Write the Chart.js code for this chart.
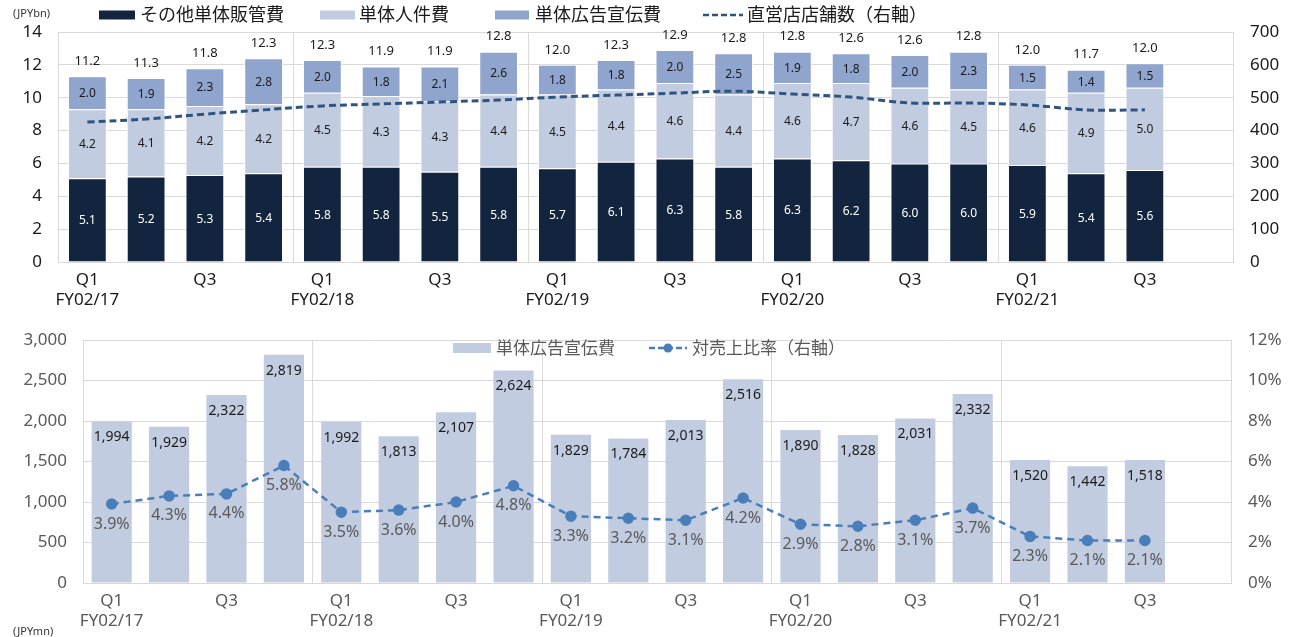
<!DOCTYPE html>
<html>
<head>
<meta charset="utf-8">
<script src="https://cdn.jsdelivr.net/npm/chart.js@4.4.1/dist/chart.umd.min.js"></script>
<style>
body{margin:0;background:#fff;width:1303px;height:637px;overflow:hidden;position:relative;font-family:"Noto Sans","Noto Sans CJK JP",sans-serif}
#top{position:absolute;left:0;top:0;width:1303px;height:310px}
#bottom{position:absolute;left:0;top:310px;width:1303px;height:327px}
.unit{position:absolute;font-size:11px;color:#333}
</style>
</head>
<body>
<div id="top"><canvas id="costChart"></canvas></div>
<div id="bottom"><canvas id="adChart"></canvas></div>
<div class="unit" style="left:13px;top:5px">(JPYbn)</div>
<div class="unit" style="left:13px;top:623px">(JPYmn)</div>
<script>
const FONT = '"Noto Sans", "Noto Sans CJK JP", sans-serif';

// quarters (last slot is empty on purpose, like the original)
const quarters = [
  ['Q1','FY02/17'], '', 'Q3', '',
  ['Q1','FY02/18'], '', 'Q3', '',
  ['Q1','FY02/19'], '', 'Q3', '',
  ['Q1','FY02/20'], '', 'Q3', '',
  ['Q1','FY02/21'], '', 'Q3', ''
];

// top chart (JPYbn)
const sonotaHankan = [5.1,5.2,5.3,5.4,5.8,5.8,5.5,5.8,5.7,6.1,6.3,5.8,6.3,6.2,6.0,6.0,5.9,5.4,5.6];
const jinkenhi     = [4.2,4.1,4.2,4.2,4.5,4.3,4.3,4.4,4.5,4.4,4.6,4.4,4.6,4.7,4.6,4.5,4.6,4.9,5.0];
const koukokuhi    = [2.0,1.9,2.3,2.8,2.0,1.8,2.1,2.6,1.8,1.8,2.0,2.5,1.9,1.8,2.0,2.3,1.5,1.4,1.5];
const goukei       = [11.2,11.3,11.8,12.3,12.3,11.9,11.9,12.8,12.0,12.3,12.9,12.8,12.8,12.6,12.6,12.8,12.0,11.7,12.0];
const tenpoSu      = [426,435,450,463,475,481,487,493,502,508,514,520,511,502,484,484,478,463,463];

// bottom chart (JPYmn, %)
const koukokuMn = [1994,1929,2322,2819,1992,1813,2107,2624,1829,1784,2013,2516,1890,1828,2031,2332,1520,1442,1518];
const hiritsu   = [3.9,4.3,4.4,5.8,3.5,3.6,4.0,4.8,3.3,3.2,3.1,4.2,2.9,2.8,3.1,3.7,2.3,2.1,2.1];

const NAVY = '#13243f', LIGHT = '#c2cce0', MID = '#8fa5cd', GRID = '#d9d9d9';

Chart.defaults.font.family = FONT;
Chart.defaults.animation = false;

// year separators only
function yearGrid(ctx) {
  if (ctx.index === undefined || ctx.index % 4 === 0) return GRID;
  return 'rgba(0,0,0,0)';
}

function makeLegend(items) {
  return {
    id: 'ownLegend',
    afterDraw(chart) {
      const c = chart.ctx;
      c.save();
      items.forEach(it => {
        if (it.type === 'box') {
          c.fillStyle = it.color;
          c.fillRect(it.x, it.y - it.h / 2, it.w, it.h);
        } else {
          c.strokeStyle = it.color;
          c.lineWidth = it.lw;
          c.setLineDash(it.dash);
          c.beginPath();
          c.moveTo(it.x, it.y);
          c.lineTo(it.x + it.w, it.y);
          c.stroke();
          c.setLineDash([]);
          if (it.dot) {
            c.fillStyle = it.color;
            c.beginPath();
            c.arc(it.x + it.w / 2, it.y, 4.5, 0, Math.PI * 2);
            c.fill();
          }
        }
        c.fillStyle = it.textColor;
        c.font = it.font;
        c.textAlign = 'left';
        c.textBaseline = 'middle';
        c.fillText(it.text, it.x + it.w + it.gap, it.y + 1);
      });
      c.restore();
    }
  };
}

const costLabels = {
  id: 'costLabels',
  afterDatasetsDraw(chart) {
    const c = chart.ctx;
    c.save();
    c.textAlign = 'center';
    c.textBaseline = 'middle';
    c.font = '12px ' + FONT;
    [0, 1, 2].forEach(di => {
      const vals = chart.data.datasets[di].data;
      chart.getDatasetMeta(di).data.forEach((bar, i) => {
        c.fillStyle = di === 0 ? '#ffffff' : '#1a1a1a';
        c.fillText(vals[i].toFixed(1), bar.x, (bar.y + bar.base) / 2 + 1);
      });
    });
    c.font = '13px ' + FONT;
    c.fillStyle = '#1a1a1a';
    chart.getDatasetMeta(2).data.forEach((bar, i) => {
      c.fillText(goukei[i].toFixed(1), bar.x, bar.y - 15);
    });
    c.restore();
  }
};

const adLabels = {
  id: 'adLabels',
  afterDatasetsDraw(chart) {
    const c = chart.ctx;
    c.save();
    c.textAlign = 'center';
    c.textBaseline = 'middle';
    c.font = '14px ' + FONT;
    c.fillStyle = '#1a1a1a';
    chart.getDatasetMeta(0).data.forEach((bar, i) => {
      c.fillText(koukokuMn[i].toLocaleString('en-US'), bar.x, bar.y + 16);
    });
    c.font = '16px ' + FONT;
    c.fillStyle = '#595959';
    chart.getDatasetMeta(1).data.forEach((pt, i) => {
      c.fillText(hiritsu[i].toFixed(1) + '%', pt.x, pt.y + 20);
    });
    c.restore();
  }
};

new Chart(document.getElementById('costChart'), {
  type: 'bar',
  data: {
    labels: quarters,
    datasets: [
      { label: 'その他単体販管費', data: sonotaHankan, backgroundColor: NAVY, borderColor: '#fff', borderWidth: 1, order: 1 },
      { label: '単体人件費', data: jinkenhi, backgroundColor: LIGHT, borderColor: '#fff', borderWidth: 1, order: 1 },
      { label: '単体広告宣伝費', data: koukokuhi, backgroundColor: MID, borderColor: '#fff', borderWidth: 1, order: 1 },
      { type: 'line', label: '直営店店舗数（右軸）', data: tenpoSu, yAxisID: 'y1', borderColor: '#2f5480',
        borderWidth: 3, borderDash: [7, 4], pointRadius: 0, tension: 0.35, order: 0 }
    ]
  },
  options: {
    responsive: true,
    maintainAspectRatio: false,
    events: [],
    layout: { padding: { top: 32, left: 0, right: 0, bottom: 0 } },
    datasets: { bar: { categoryPercentage: 1, barPercentage: 0.66 } },
    plugins: { legend: { display: false }, tooltip: { enabled: false } },
    scales: {
      x: {
        stacked: true,
        grid: { offset: true, color: yearGrid, drawTicks: false },
        border: { color: GRID },
        ticks: { autoSkip: false, maxRotation: 0, color: '#1a1a1a', font: { size: 17 }, padding: 8 },
        afterFit: s => { s.height = 48; }
      },
      y: {
        stacked: true, min: 0, max: 14,
        ticks: { stepSize: 2, color: '#1a1a1a', font: { size: 17 }, padding: 16 },
        grid: { color: GRID, drawTicks: false },
        border: { color: GRID },
        afterFit: s => { s.width = 58; }
      },
      y1: {
        position: 'right', min: 0, max: 700,
        ticks: { stepSize: 100, color: '#1a1a1a', font: { size: 17 }, padding: 17 },
        grid: { drawOnChartArea: false, drawTicks: false },
        border: { color: GRID },
        afterFit: s => { s.width = 70; }
      }
    }
  },
  plugins: [costLabels, makeLegend([
    { type: 'box', color: NAVY, x: 99, y: 15, w: 36, h: 9, gap: 5, text: 'その他単体販管費', textColor: '#1a1a1a', font: '18px ' + FONT },
    { type: 'box', color: LIGHT, x: 320, y: 15, w: 35, h: 9, gap: 4, text: '単体人件費', textColor: '#1a1a1a', font: '18px ' + FONT },
    { type: 'box', color: MID, x: 495, y: 15, w: 34, h: 9, gap: 6, text: '単体広告宣伝費', textColor: '#1a1a1a', font: '18px ' + FONT },
    { type: 'line', color: '#2f5480', x: 703, y: 15, w: 40, lw: 2.5, dash: [6, 3], gap: 4, text: '直営店店舗数（右軸）', textColor: '#1a1a1a', font: '18px ' + FONT }
  ])]
});

new Chart(document.getElementById('adChart'), {
  type: 'bar',
  data: {
    labels: quarters,
    datasets: [
      { label: '単体広告宣伝費', data: koukokuMn, backgroundColor: LIGHT, order: 1 },
      { type: 'line', label: '対売上比率（右軸）', data: hiritsu, yAxisID: 'y1', borderColor: '#4a7ebb',
        backgroundColor: '#4a7ebb', borderWidth: 2.5, borderDash: [7, 5], pointRadius: 4.5, tension: 0, order: 0 }
    ]
  },
  options: {
    responsive: true,
    maintainAspectRatio: false,
    events: [],
    layout: { padding: { top: 30, left: 0, right: 0, bottom: 0 } },
    datasets: { bar: { categoryPercentage: 1, barPercentage: 0.7 } },
    plugins: { legend: { display: false }, tooltip: { enabled: false } },
    scales: {
      x: {
        grid: { offset: true, color: yearGrid, drawTicks: false },
        border: { color: GRID },
        ticks: { autoSkip: false, maxRotation: 0, color: '#595959', font: { size: 17 }, padding: 8 },
        afterFit: s => { s.height = 54; }
      },
      y: {
        min: 0, max: 3000,
        ticks: { stepSize: 500, color: '#595959', font: { size: 17 }, padding: 16,
          callback: v => v.toLocaleString('en-US') },
        grid: { color: GRID, drawTicks: false },
        border: { color: GRID },
        afterFit: s => { s.width = 83; }
      },
      y1: {
        position: 'right', min: 0, max: 12,
        ticks: { stepSize: 2, color: '#595959', font: { size: 17 }, padding: 17, callback: v => v + '%' },
        grid: { drawOnChartArea: false, drawTicks: false },
        border: { color: GRID },
        afterFit: s => { s.width = 72; }
      }
    }
  },
  plugins: [adLabels, makeLegend([
    { type: 'box', color: LIGHT, x: 453, y: 38, w: 38, h: 10, gap: 5, text: '単体広告宣伝費', textColor: '#595959', font: '17px ' + FONT },
    { type: 'line', color: '#4a7ebb', x: 649, y: 38, w: 38, lw: 2.5, dash: [6, 3], dot: true, gap: 5, text: '対売上比率（右軸）', textColor: '#595959', font: '17px ' + FONT }
  ])]
});
</script>
</body>
</html>
